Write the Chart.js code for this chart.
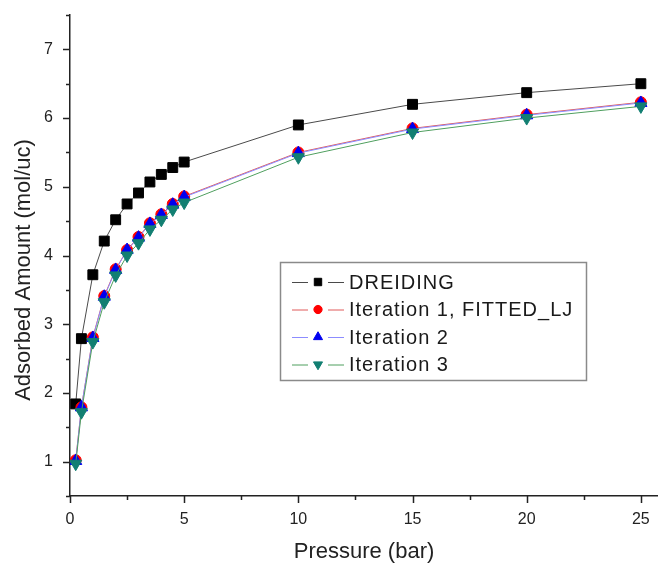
<!DOCTYPE html>
<html>
<head>
<meta charset="utf-8">
<script src="https://cdn.jsdelivr.net/npm/chart.js@4/dist/chart.umd.min.js"></script>
<style>
  html, body { margin: 0; padding: 0; background: #fff; overflow: hidden; }
  #isotherm { display: block; }
</style>
</head>
<body>
<!-- a little wider than the window so the plot runs off the right edge -->
<canvas id="isotherm" width="666" height="563"></canvas>
<script>
// pressure points (bar) and uptake per unit cell for each force field
const pressure = [0.25, 0.5, 1, 1.5, 2, 2.5, 3, 3.5, 4, 4.5, 5, 10, 15, 20, 25];
const dreiding = [1.84, 2.79, 3.72, 4.21, 4.52, 4.75, 4.91, 5.07, 5.18, 5.28, 5.36, 5.90, 6.20, 6.37, 6.50];
const iteration1 = [1.02, 1.79, 2.81, 3.41, 3.80, 4.08, 4.27, 4.47, 4.60, 4.75, 4.86, 5.50, 5.85, 6.05, 6.23];
const iteration2 = [1.01, 1.79, 2.80, 3.40, 3.79, 4.08, 4.26, 4.46, 4.59, 4.74, 4.85, 5.49, 5.84, 6.04, 6.22];
const iteration3 = [0.97, 1.72, 2.74, 3.32, 3.71, 4.00, 4.18, 4.38, 4.52, 4.67, 4.77, 5.43, 5.79, 6.00, 6.17];

const seriesNames = ['DREIDING', 'Iteration 1, FITTED_LJ', 'Iteration 2', 'Iteration 3'];
const xTicks = [0, 5, 10, 15, 20, 25];
const yTicks = [1, 2, 3, 4, 5, 6, 7];

const FONT = '"Liberation Sans", Arial, Helvetica, sans-serif';

function pts(ys) {
  return pressure.map((p, i) => ({ x: p, y: ys[i] }));
}

function series(label, ys, line, fill, style, radius, rotation, order) {
  return {
    label: label,
    data: pts(ys),
    borderColor: line,
    borderWidth: 1,
    pointStyle: style,
    pointRadius: radius,
    pointRotation: rotation,
    pointBackgroundColor: fill,
    pointBorderColor: fill,
    pointBorderWidth: 1,
    legendRadius: radius * 0.75,
    tension: 0,
    order: order
  };
}

// Origin-style tick marks: majors with labels, minors half way between
const tickMarks = {
  id: 'tickMarks',
  afterDraw(chart) {
    const ctx = chart.ctx;
    const xs = chart.scales.x, ys = chart.scales.y;
    const area = chart.chartArea;
    ctx.save();
    ctx.strokeStyle = '#222';
    ctx.lineWidth = 1.5;
    ctx.beginPath();
    for (let v = 0; v <= xs.max + 1e-9; v += 2.5) {
      const px = Math.round(xs.getPixelForValue(v)) + 0.5;
      const len = (v % 5 === 0) ? 7 : 4;
      ctx.moveTo(px, area.bottom);
      ctx.lineTo(px, area.bottom + len);
    }
    for (let v = ys.min; v <= ys.max + 1e-9; v += 0.5) {
      const py = Math.round(ys.getPixelForValue(v)) + 0.5;
      const len = (v % 1 === 0) ? 7 : 4;
      ctx.moveTo(area.left, py);
      ctx.lineTo(area.left - len, py);
    }
    ctx.stroke();

    // vertical axis title, sitting a bit below the middle of the axis
    ctx.translate(30, 270);
    ctx.rotate(-Math.PI / 2);
    ctx.fillStyle = '#222';
    ctx.font = '22px ' + FONT;
    ctx.textAlign = 'center';
    ctx.textBaseline = 'alphabetic';
    ctx.fillText('Adsorbed Amount (mol/uc)', 0, 0);
    ctx.restore();
  }
};

// boxed legend sitting inside the plot
const boxLegend = {
  id: 'boxLegend',
  afterDraw(chart) {
    const ctx = chart.ctx;
    const left = 280, top = 262, width = 306, height = 118;
    const rowStart = 282, rowGap = 27.5;
    ctx.save();
    ctx.fillStyle = '#fff';
    ctx.fillRect(left, top, width, height);
    ctx.strokeStyle = '#8a8a8a';
    ctx.lineWidth = 1.5;
    ctx.strokeRect(left + 0.5, top + 0.5, width, height);
    chart.data.datasets.forEach((ds, i) => {
      const y = rowStart + i * rowGap;
      const mx = 318;
      ctx.strokeStyle = ds.borderColor;
      ctx.lineWidth = 1;
      ctx.beginPath();
      ctx.moveTo(292, y + 0.5); ctx.lineTo(mx - 10, y + 0.5);
      ctx.moveTo(mx + 10, y + 0.5); ctx.lineTo(344, y + 0.5);
      ctx.stroke();
      ctx.fillStyle = ds.pointBackgroundColor;
      ctx.strokeStyle = ds.pointBorderColor;
      Chart.helpers.drawPoint(ctx, {
        pointStyle: ds.pointStyle,
        radius: ds.legendRadius,
        rotation: ds.pointRotation,
        borderWidth: 1
      }, mx, y);
      ctx.fillStyle = '#1a1a1a';
      ctx.font = '20px ' + FONT;
      ctx.letterSpacing = '1px';
      ctx.textBaseline = 'middle';
      ctx.textAlign = 'left';
      ctx.fillText(ds.label, 349, y + 1);
    });
    ctx.restore();
  }
};

new Chart(document.getElementById('isotherm'), {
  type: 'line',
  data: {
    datasets: [
      series(seriesNames[0], dreiding, '#4a4a4a', '#000000', 'rect', 7, 0, 3),
      series(seriesNames[1], iteration1, '#e05a5a', '#ff0000', 'circle', 5.5, 0, 2),
      series(seriesNames[2], iteration2, '#8c8cff', '#0000f0', 'triangle', 7, 0, 1),
      series(seriesNames[3], iteration3, '#4f9f5f', '#127f72', 'triangle', 7, 180, 0)
    ]
  },
  options: {
    responsive: false,
    animation: false,
    layout: { padding: { top: 15, right: 0, bottom: 0, left: 0 } },
    plugins: {
      legend: { display: false },
      tooltip: { enabled: false }
    },
    scales: {
      x: {
        type: 'linear',
        min: 0,
        max: 25.75,
        afterBuildTicks: s => { s.ticks = xTicks.map(v => ({ value: v })); },
        afterFit: s => {
          s.height = 67;
          s.paddingLeft = 0;
          s.paddingRight = 0;
        },
        grid: { display: false, drawTicks: false },
        border: { display: true, color: '#222', width: 1.5 },
        ticks: {
          color: '#222',
          padding: 14,
          maxRotation: 0,
          font: { family: FONT, size: 16 }
        },
        title: {
          display: true,
          text: 'Pressure (bar)',
          color: '#222',
          padding: 0,
          font: { family: FONT, size: 22, lineHeight: 1 }
        }
      },
      y: {
        type: 'linear',
        min: 0.5,
        max: 7.5,
        afterBuildTicks: s => { s.ticks = yTicks.map(v => ({ value: v })); },
        afterFit: s => {
          s.width = 70;
          s.paddingTop = 0;
          s.paddingBottom = 0;
        },
        grid: { display: false, drawTicks: false },
        border: { display: true, color: '#222', width: 1.5 },
        ticks: {
          color: '#222',
          padding: 17,
          font: { family: FONT, size: 16 }
        }
      }
    }
  },
  plugins: [tickMarks, boxLegend]
});
</script>
</body>
</html>
